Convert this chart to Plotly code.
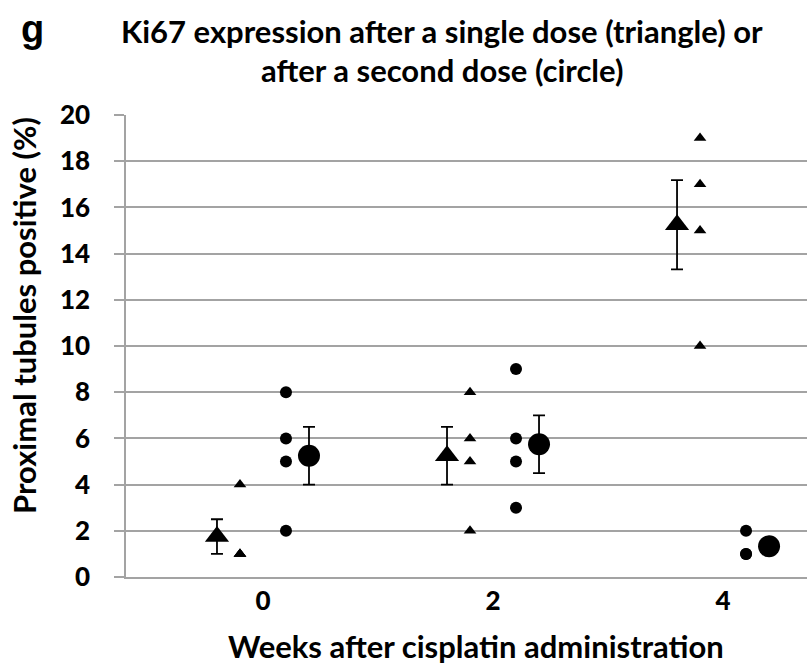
import plotly.graph_objects as go

# ---- data ----
weeks = [0, 2, 4]
tick_labels = ["0", "2", "4"]

# individual animals, single dose (triangle)
single_w0 = [4, 1, 1, 1]
single_w2 = [8, 6, 5, 2]
single_w4 = [19, 17, 15, 10]
# individual animals, second dose (circle)
second_w0 = [8, 6, 5, 2]
second_w2 = [9, 6, 5, 3]
second_w4 = [2, 1, 1]

single_mean = [1.75, 5.25, 15.25]
single_err = [0.75, 1.25, 1.93]
second_mean = [5.25, 5.75, 1.33]
second_err = [1.25, 1.25, 0.33]

y_ticks = [0, 2, 4, 6, 8, 10, 12, 14, 16, 18, 20]

# ---- layout constants ----
OFF_SINGLE_MEAN = -0.4
OFF_SINGLE_PTS = -0.2
OFF_SECOND_PTS = 0.2
OFF_SECOND_MEAN = 0.4
FONT = "Lato"
GRID = "#a3a3a3"

def pts_xy(groups, off):
    xs, ys = [], []
    for w, vals in zip(weeks, groups):
        for v in vals:
            xs.append(w + off)
            ys.append(v)
    return xs, ys

fig = go.Figure()

sx, sy = pts_xy([single_w0, single_w2, single_w4], OFF_SINGLE_PTS)
cx, cy = pts_xy([second_w0, second_w2, second_w4], OFF_SECOND_PTS)

fig.add_trace(go.Scatter(x=sx, y=sy, mode="markers",
                         marker=dict(symbol="triangle-up", size=11, color="black"),
                         showlegend=False))
fig.add_trace(go.Scatter(x=cx, y=cy, mode="markers",
                         marker=dict(symbol="circle", size=12, color="black"),
                         showlegend=False))
fig.add_trace(go.Scatter(x=[w + OFF_SINGLE_MEAN for w in weeks], y=single_mean,
                         mode="markers",
                         marker=dict(symbol="triangle-up", size=21, color="black"),
                         error_y=dict(type="data", array=single_err, color="black",
                                      thickness=1.8, width=6),
                         showlegend=False))
fig.add_trace(go.Scatter(x=[w + OFF_SECOND_MEAN for w in weeks], y=second_mean,
                         mode="markers",
                         marker=dict(symbol="circle", size=22, color="black"),
                         error_y=dict(type="data", array=second_err, color="black",
                                      thickness=1.8, width=6),
                         showlegend=False))

TICKFONT = dict(family=FONT, size=26, color="black", weight=900)

fig.update_layout(
    width=807, height=670,
    margin=dict(l=126, r=0, t=115, b=93),
    paper_bgcolor="white", plot_bgcolor="white",
    font=dict(family=FONT, color="black"),
    xaxis=dict(range=[-1.191, 4.73], tickmode="array", tickvals=weeks,
               ticktext=tick_labels,
               showgrid=False, zeroline=False,
               showline=True, linecolor=GRID, linewidth=1.5,
               ticks="", tickfont=TICKFONT,
               ticklabelstandoff=0),
    yaxis=dict(range=[0, 20], tickmode="array", tickvals=y_ticks,
               ticktext=[str(v) for v in y_ticks],
               showgrid=True, gridcolor=GRID, gridwidth=1.5, zeroline=False,
               showline=True, linecolor=GRID, linewidth=1.5,
               ticks="outside", ticklen=10, tickcolor=GRID, tickwidth=1.5,
               tickfont=TICKFONT,
               ticklabelstandoff=19),
)

ann = [
    dict(text="<b>g</b>", x=19, y=29, font=dict(family="Liberation Sans", size=38)),
    dict(text="<b>Ki67 expression after a single dose (triangle) or</b>",
         x=442, y=31, font=dict(family=FONT, size=31)),
    dict(text="<b>after a second dose (circle)</b>",
         x=442, y=70, font=dict(family=FONT, size=31)),
    dict(text="<b>Weeks after cisplatin administration</b>",
         x=476, y=646, font=dict(family=FONT, size=31)),
]
for a in ann:
    xanchor = "left" if a["text"] == "<b>g</b>" else "center"
    fig.add_annotation(text=a["text"], xref="paper", yref="paper",
                       x=(a["x"] - 126) / 681, y=(577 - a["y"]) / 462,
                       xanchor=xanchor, yanchor="middle", showarrow=False,
                       font=dict(color="black", **a["font"]))

fig.add_annotation(text="<b>Proximal tubules positive (%)</b>", xref="paper", yref="paper",
                   x=(24 - 126) / 681, y=(577 - 316) / 462, xanchor="center",
                   yanchor="middle", textangle=-90, showarrow=False,
                   font=dict(family=FONT, size=31, color="black"))

fig.write_html("out.html", config={"displayModeBar": False},
               post_script="document.body.style.margin='0';")
